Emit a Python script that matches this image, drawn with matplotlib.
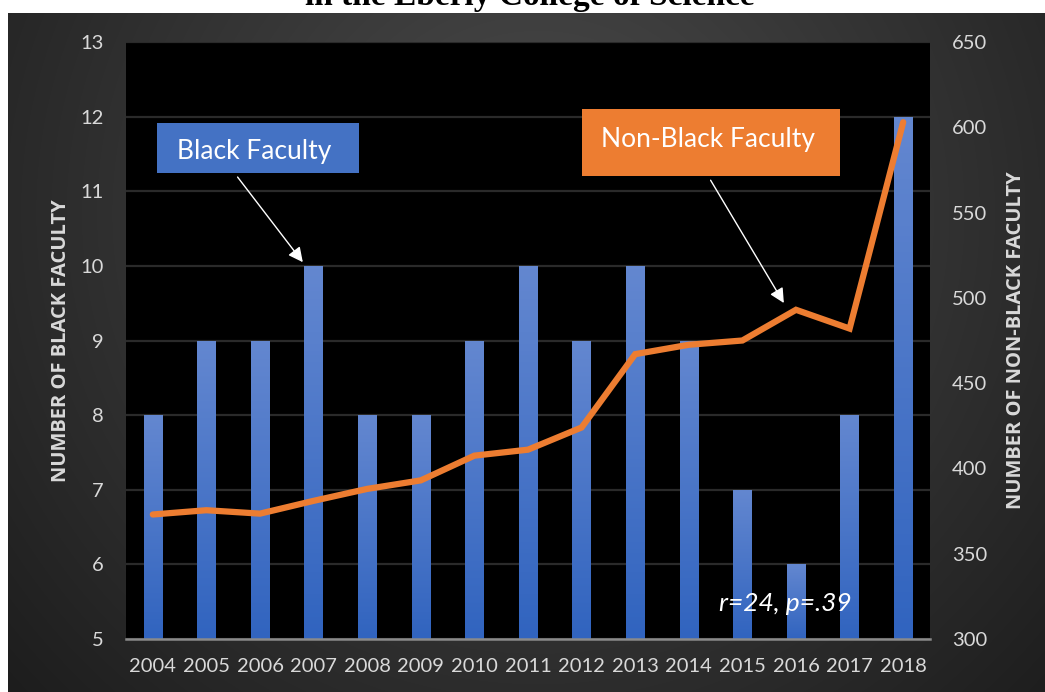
import numpy as np
import matplotlib
matplotlib.use("Agg")
import matplotlib.pyplot as plt
from matplotlib.patches import Rectangle

plt.rcParams["font.family"] = ["Lato", "DejaVu Sans"]

years = [str(y) for y in range(2004, 2019)]
black_faculty = [8, 9, 9, 10, 8, 8, 9, 10, 9, 10, 9, 7, 6, 8, 12]
non_black_faculty = [373, 375.5, 373.5, 381, 388, 393, 407.5, 411, 424,
                     467, 472.5, 475, 493, 482, 603]

TXT = "#D9D9D9"
BLUE = "#4472C4"
ORANGE = "#ED7D31"

W, H = 1045, 692
fig = plt.figure(figsize=(W / 100, H / 100), dpi=100)
fig.patch.set_facecolor("white")

# dark radial background panel
bg = fig.add_axes([8 / W, 0, 1 - 8 / W, 1 - 13 / H])
bg.set_axis_off()
yy, xx = np.mgrid[0:680, 0:1037]
r = np.hypot(xx - 530, yy - 200)
shade = np.clip(76 - 46 * r / 700, 28, 80) / 255
bg.imshow(np.dstack([shade] * 3), aspect="auto", extent=[0, 1, 0, 1])

fig.text(530 / W, 1 - 5 / H, "in the Eberly College of Science",
         ha="center", va="baseline", fontsize=24, fontweight="bold",
         family="Liberation Serif", color="black")

ax = fig.add_axes([126 / W, 1 - 639 / H, (930 - 126) / W, (639 - 42) / H])
ax.set_facecolor("black")
x = np.arange(len(years))

bars = ax.bar(x, black_faculty, width=0.34, color=BLUE, zorder=2)
grad = np.linspace(0, 1, 100).reshape(-1, 1)
cmap = matplotlib.colors.LinearSegmentedColormap.from_list(
    "bg", ["#3164BF", "#6387D0"])
for b in bars:
    x0, w, h = b.get_x(), b.get_width(), b.get_height()
    im = ax.imshow(grad, cmap=cmap, aspect="auto", origin="lower",
                   extent=[x0, x0 + w, 5, h], zorder=2.1)
    im.set_clip_path(b)

ax.set_xlim(-0.5, len(years) - 0.5)
ax.set_ylim(5, 13)
ax.set_yticks(range(5, 14))
ax.set_xticks(x, years)
ax.grid(axis="y", color="#2a2a2a", linewidth=1.6, zorder=0)
ax.set_axisbelow(True)
for s in ["top", "left", "right"]:
    ax.spines[s].set_visible(False)
ax.spines["bottom"].set_color("#8a8a8a")
ax.spines["bottom"].set_linewidth(1.8)
ax.tick_params(axis="both", length=0, colors=TXT, labelsize=14.5)
ax.tick_params(axis="y", pad=16)
ax.tick_params(axis="x", pad=14)
ax.set_ylabel("NUMBER OF BLACK FACULTY", color=TXT, fontsize=14.5,
              fontweight="bold", family="Open Sans", labelpad=7)

ax2 = ax.twinx()
ax2.plot(x, non_black_faculty, color=ORANGE, linewidth=4.5,
         solid_capstyle="round", solid_joinstyle="miter", zorder=3)
ax2.set_ylim(300, 650)
ax2.set_yticks(range(300, 651, 50))
for s in ax2.spines.values():
    s.set_visible(False)
ax2.tick_params(axis="y", length=0, colors=TXT, labelsize=14.5, pad=16)
ax2.set_ylabel("NUMBER OF NON-BLACK FACULTY", color=TXT, fontsize=14.5,
               fontweight="bold", family="Open Sans", labelpad=13)

# callout boxes with arrows
tr = ax.transData
ax2.add_patch(Rectangle((0.08, 11.24), 3.77, 0.67, transform=tr,
                        facecolor=BLUE, edgecolor="none", zorder=5))
ax2.text(0.45, 11.53, "Black Faculty", transform=tr, color="white",
         fontsize=19, va="center", ha="left", zorder=6)
ax2.annotate("", xy=(2.83, 10.02), xycoords=tr, xytext=(1.55, 11.22),
             textcoords=tr, zorder=6,
             arrowprops=dict(arrowstyle="-|>", color="white", lw=1,
                             mutation_scale=22))

ax2.add_patch(Rectangle((8.0, 11.2), 4.82, 0.9, transform=tr,
                        facecolor=ORANGE, edgecolor="none", zorder=5))
ax2.text(8.37, 11.7, "Non-Black Faculty", transform=tr, color="white",
         fontsize=19, va="center", ha="left", zorder=6)
ax2.annotate("", xy=(11.8, 9.47), xycoords=tr, xytext=(10.38, 11.18),
             textcoords=tr, zorder=6,
             arrowprops=dict(arrowstyle="-|>", color="white", lw=1,
                             mutation_scale=22))

ax2.text(11.8, 5.47, "r=24, p=.39", transform=tr, color="white",
         fontsize=19, style="italic", ha="center", va="center", zorder=6)

fig.savefig("out.png", dpi=100, facecolor=fig.get_facecolor())
